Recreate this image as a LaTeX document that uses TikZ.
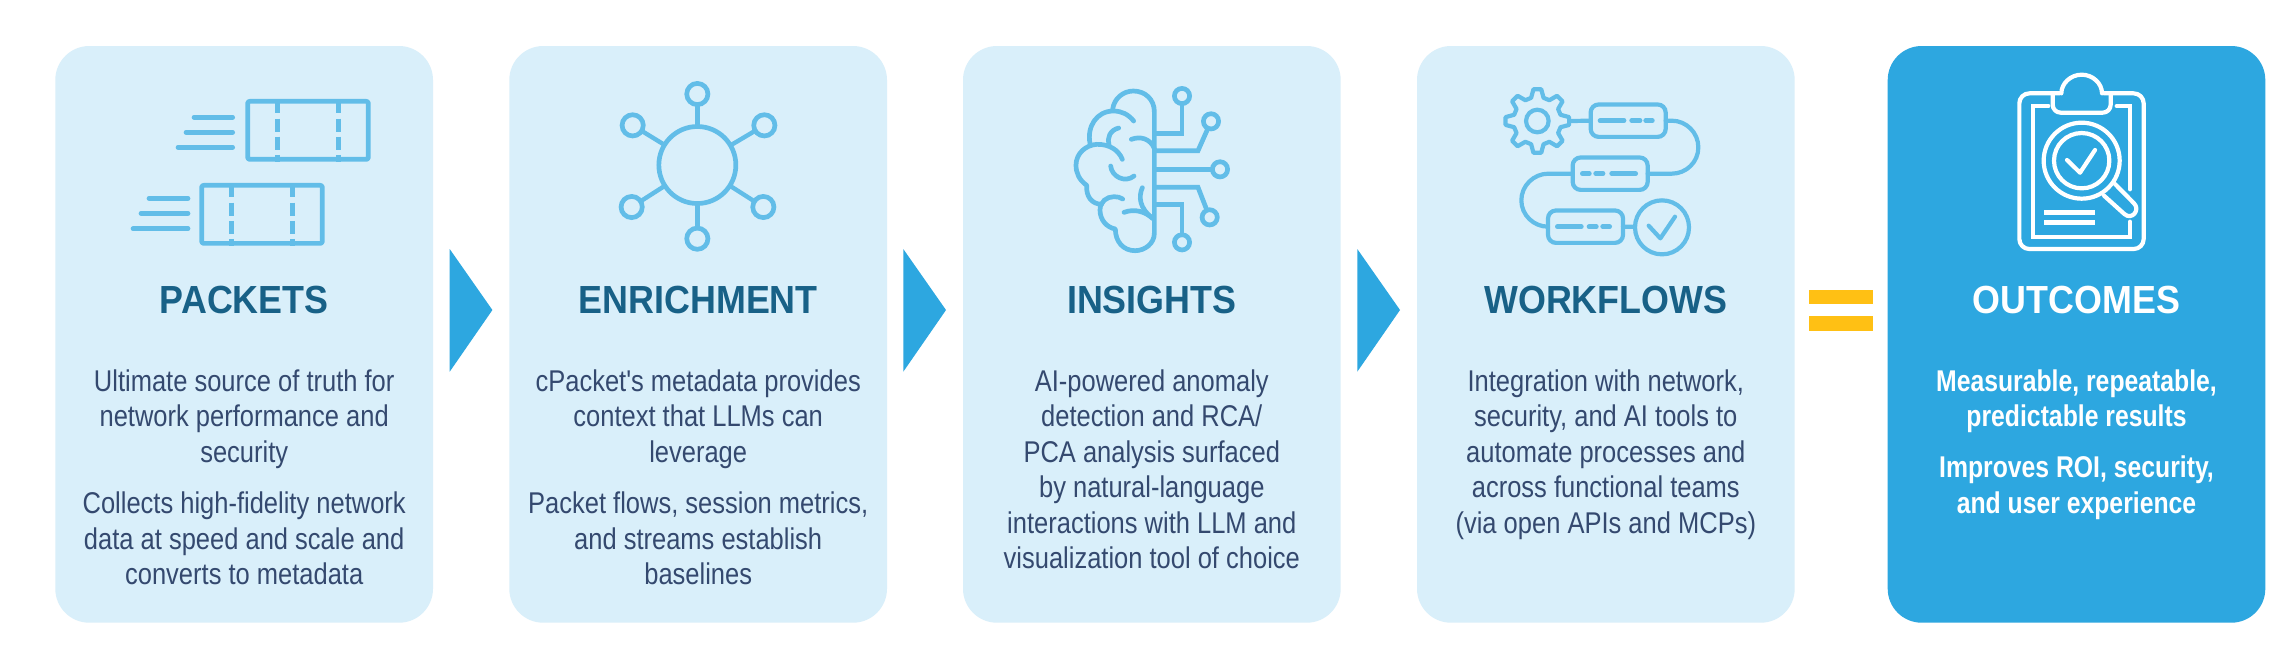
\documentclass[tikz,border=0pt]{standalone}
\usepackage{fontspec}
\setmainfont{Liberation Sans}
\newfontfamily\bodyfont[FakeStretch=0.85]{Liberation Sans}
\newfontfamily\outfont[FakeStretch=0.825]{Liberation Sans}
\newfontfamily\titlefont[FakeStretch=0.915]{Liberation Sans}
\definecolor{cardbg}{HTML}{D9EFFA}
\definecolor{iconblue}{HTML}{62BDE8}
\definecolor{titleblue}{HTML}{186187}
\definecolor{bodyblue}{HTML}{34496F}
\definecolor{outblue}{HTML}{2DA7E0}
\definecolor{eqyellow}{HTML}{FFC014}
\tikzset{
  cardbox/.style={fill=cardbg,draw=none,rounded corners=17pt},
  outbox/.style={fill=outblue,draw=none,rounded corners=17pt},
  chevron/.style={fill=outblue,draw=none},
  eqbar/.style={fill=eqyellow,draw=none},
  cardtitle/.style={anchor=base,inner sep=0pt,font=\titlefont\bfseries\fontsize{19.6}{24}\selectfont,text=titleblue},
  cardbody/.style={anchor=north,inner sep=0pt,align=center,font=\bodyfont\fontsize{15}{17.75}\selectfont,text=bodyblue},
  outbody/.style={anchor=north,inner sep=0pt,align=center,font=\outfont\bfseries\fontsize{15}{17.75}\selectfont,text=white},
  ico/.style={draw=iconblue,line width=2.35pt,line join=round,line cap=round},
  icofine/.style={draw=iconblue,line width=2.1pt,line join=round,line cap=round},
  ring/.style={circle,draw=iconblue,line width=2.35pt,inner sep=0pt,outer sep=0pt},
  step box/.style={draw=iconblue,line width=2.1pt,rounded corners=4pt,inner sep=0pt,outer sep=0pt,minimum width=37.5pt,minimum height=16.2pt},
  zoomed/.style={x=0.16667pt,y=-0.16667pt},
}
\begin{document}
\begin{tikzpicture}[x=0.5pt,y=-0.5pt]
\useasboundingbox (0,0) rectangle (2288,645);
\fill[white] (0,0) rectangle (2288,645);
% cards
\path[cardbox] (55.3,46) rectangle (433,622.7);
\path[cardbox] (509.3,46) rectangle (887,622.7);
\path[cardbox] (963,46) rectangle (1340.7,622.7);
\path[cardbox] (1417,46) rectangle (1794.7,622.7);
\path[outbox] (1887.7,46) rectangle (2265.3,622.7);
% chevrons
\foreach \x in {449.7,903.3,1357.3} \path[chevron] (\x,249) -- (\x+42.7,310) -- (\x,371.7) -- cycle;
% equals
\path[eqbar] (1809,289.7) rectangle (1873,304.3);
\path[eqbar] (1809,316) rectangle (1873,330.5);
% titles
\node[cardtitle] (t1) at (244.2,313) {PACKETS};
\node[cardtitle] (t2) at (698.2,313) {ENRICHMENT};
\node[cardtitle] (t3) at (1151.8,313) {INSIGHTS};
\node[cardtitle] (t4) at (1605.8,313) {WORKFLOWS};
\node[cardtitle,text=white] (t5) at (2076.5,313) {OUTCOMES};
% bodies
\node[cardbody] (b1a) at (244.2,369) {Ultimate source of truth for\\network performance and\\security};
\node[cardbody] (b1b) at (244.2,491.5) {Collects high-fidelity network\\data at speed and scale and\\converts to metadata};
\node[cardbody] (b2a) at (698.2,369) {cPacket's metadata provides\\context that LLMs can\\leverage};
\node[cardbody] (b2b) at (698.2,491.5) {Packet flows, session metrics,\\and streams establish\\baselines};
\node[cardbody] (b3) at (1151.8,369) {AI-powered anomaly\\detection and RCA/\\PCA analysis surfaced\\by natural-language\\interactions with LLM and\\visualization tool of choice};
\node[cardbody] (b4) at (1605.8,369) {Integration with network,\\security, and AI tools to\\automate processes and\\across functional teams\\(via open APIs and MCPs)};
\node[outbody] (b5a) at (2076.5,369) {Measurable, repeatable,\\predictable results};
\node[outbody] (b5b) at (2076.5,455.5) {Improves ROI, security,\\and user experience};
% packets icon
\begin{scope}[shift={(40,30)},zoomed]
\foreach \dx/\dy in {0/0,-138/252}{
  \begin{scope}[shift={(\dx,\dy)}]
  \draw[ico,rounded corners=1pt] (623,214) rectangle (985,388);
  \draw[draw=iconblue,line width=2.5pt,dash pattern=on 6.5pt off 2.6pt,dash phase=0.5pt] (711,214) -- (711,396);
  \draw[draw=iconblue,line width=2.5pt,dash pattern=on 6.5pt off 2.6pt,dash phase=0.5pt] (895,214) -- (895,396);
  \end{scope}
}
\draw[ico] (462,262) -- (578,262); \draw[ico] (438,307) -- (578,307); \draw[ico] (414,352) -- (578,352);
\draw[ico] (327,505) -- (444,505); \draw[ico] (303,550) -- (444,550); \draw[ico] (279,596) -- (444,596);
\end{scope}
% enrichment icon
\begin{scope}[shift={(500,30)},zoomed]
\node[ring,minimum size=38.5pt] (ec) at (592,405) {};
\node[ring,minimum size=10.6pt] (e1) at (592,192) {};
\node[ring,minimum size=10.6pt] (e2) at (793,286) {};
\node[ring,minimum size=10.6pt] (e3) at (790,531) {};
\node[ring,minimum size=10.6pt] (e4) at (592,626) {};
\node[ring,minimum size=10.6pt] (e5) at (395,531) {};
\node[ring,minimum size=10.6pt] (e6) at (398,286) {};
\foreach \i in {1,...,6} \draw[draw=iconblue,line width=2.2pt] (ec) -- (e\i);
\end{scope}
% brain icon
\begin{scope}[shift={(960,30)},zoomed]
\draw[ico] (458,238) .. controls (462,205) and (490,183) .. (520,183) .. controls (555,183) and (583,208) .. (583,245) -- (583,610) .. controls (583,640) and (555,662) .. (525,662) .. controls (490,662) and (466,635) .. (466,597) .. controls (440,592) and (420,570) .. (420,540) .. controls (420,515) and (440,500) .. (462,500) .. controls (472,500) and (482,502) .. (488,507);
\draw[ico] (425,523) .. controls (395,522) and (378,500) .. (380,466) .. controls (358,450) and (348,430) .. (348,405) .. controls (348,370) and (378,345) .. (410,343) .. controls (445,342) and (475,358) .. (487,388);
\draw[ico] (390,340) .. controls (380,290) and (410,243) .. (460,243) .. controls (485,243) and (505,253) .. (521,273);
\draw[ico] (476,294) .. controls (450,300) and (440,325) .. (447,345);
\draw[ico] (514,328) .. controls (540,318) and (570,325) .. (583,355);
\draw[ico] (452,408) .. controls (455,440) and (495,460) .. (522,438);
\draw[ico] (547,473) .. controls (535,500) and (538,535) .. (578,565);
\draw[ico] (492,547) .. controls (525,535) and (555,545) .. (578,565);
\node[ring,minimum size=7.6pt] (c1) at (666,198) {};
\node[ring,minimum size=7.6pt] (c2) at (753,274) {};
\node[ring,minimum size=7.6pt] (c3) at (780,418) {};
\node[ring,minimum size=7.6pt] (c4) at (749,562) {};
\node[ring,minimum size=7.6pt] (c5) at (666,637) {};
\draw[ico,line cap=butt,line join=miter] (583,311) -- (666,311) -- (c1);
\draw[ico,line cap=butt,line join=miter] (583,362) -- (714,362) -- (c2);
\draw[ico,line cap=butt] (583,418) -- (c3);
\draw[ico,line cap=butt,line join=miter] (583,472) -- (714,472) -- (c4);
\draw[ico,line cap=butt,line join=miter] (583,523) -- (666,523) -- (c5);
\end{scope}
% workflows icon
\begin{scope}[shift={(1420,30)},zoomed]
\draw[icofine] ({352+72*cos(-15)},{273+72*sin(-15)})
  \foreach \a in {0,45,...,315}{ -- ({352+72*cos(\a-15)},{273+72*sin(\a-15)}) -- ({352+96*cos(\a-7)},{273+96*sin(\a-7)}) -- ({352+96*cos(\a+7)},{273+96*sin(\a+7)}) -- ({352+72*cos(\a+15)},{273+72*sin(\a+15)}) } -- cycle;
\node[circle,draw=iconblue,line width=2.1pt,inner sep=0pt,outer sep=0pt,minimum size=11.3pt] (gi) at (352,273) {};
\coordinate (gr) at (452,273);
\node[step box] (w1) at (624.5,272) {};
\node[step box] (w2) at (570.5,431) {};
\node[step box] (w3) at (496.5,590) {};
\node[circle,draw=iconblue,line width=2.1pt,inner sep=0pt,outer sep=0pt,minimum size=27pt] (wc) at (726,592) {};
\draw[icofine] (gr) -- (w1.west);
\draw[icofine] (w1.east) -- (755,272) .. controls (799,272) and (835,308) .. (835,352) .. controls (835,396) and (799,431) .. (755,431) -- (w2.east);
\draw[icofine] (w2.west) -- (385,431) .. controls (341,431) and (304,467) .. (304,511) .. controls (304,555) and (341,590) .. (w3.west);
\draw[icofine] (w3.east) -- (wc);
\draw[icofine] (686,587) -- (721,625) -- (765,560);
\foreach \yy/\ax/\bx/\cx/\dx/\ex/\fx in {272/540/612/635/660/677/697,590/412/484/507/529/548/569}{
  \draw[ico] (\ax,\yy) -- (\bx,\yy); \draw[ico] (\cx,\yy) -- (\dx,\yy); \draw[ico] (\ex,\yy) -- (\fx,\yy);
}
\draw[ico] (487,431) -- (508,431); \draw[ico] (527,431) -- (549,431); \draw[ico] (575,431) -- (647,431);
\end{scope}
% outcomes icon
\begin{scope}[shift={(1790,30)},zoomed]
\tikzset{wht/.style={draw=white,line width=2.1pt,line join=round,line cap=round}}
\draw[wht] (814,190) .. controls (814,160) and (842,134) .. (875,134) .. controls (908,134) and (936,160) .. (936,190);
\draw[wht,rounded corners=5pt] (808,190) -- (688,190) -- (688,657) -- (1061,657) -- (1061,190) -- (942,190);
\draw[wht,rounded corners=4pt] (788,190) -- (788,248) -- (962,248) -- (962,190);
\draw[wht] (808,190) -- (788,190); \draw[wht] (942,190) -- (962,190);
\draw[wht,line join=miter] (775,228) -- (730,228) -- (730,620) -- (1020,620) -- (1020,575);
\draw[wht,line join=miter] (980,228) -- (1020,228) -- (1020,478);
\fill[outblue] (875,392) circle[radius=114];
\draw[wht] (875,392) circle[radius=114];
\draw[wht] (875,392) circle[radius=83];
\draw[wht] (831,390) -- (870,428) -- (915,360);
\draw[wht,fill=outblue] (975,462) -- (1032,520) .. controls (1052,540) and (1025,572) .. (1003,552) -- (942,497);
\draw[draw=white,line width=2.6pt] (762,548) -- (915,548);
\draw[draw=white,line width=2.6pt] (762,577) -- (915,577);
\end{scope}
\end{tikzpicture}
\end{document}
